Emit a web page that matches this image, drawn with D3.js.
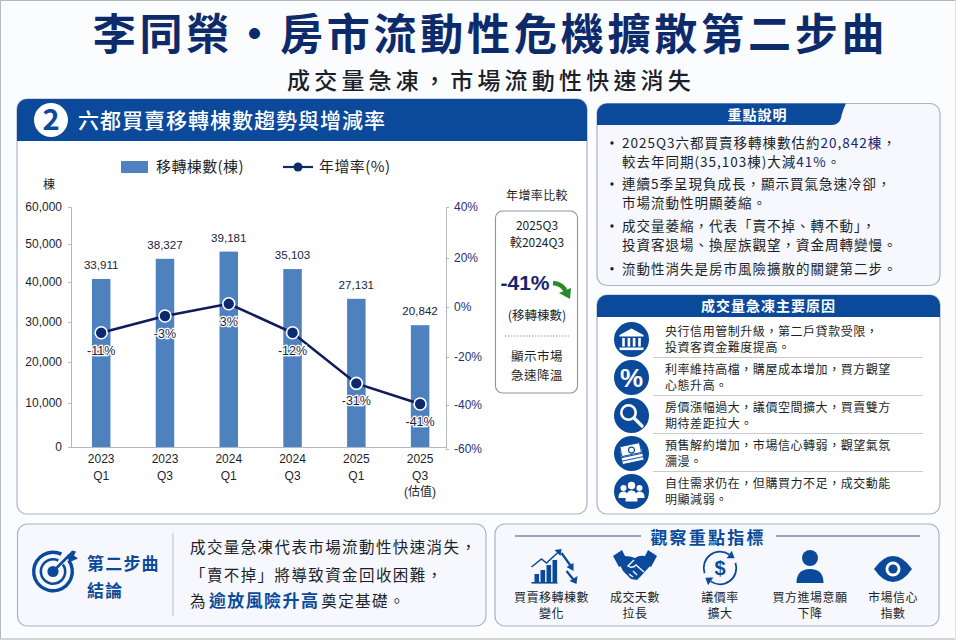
<!DOCTYPE html>
<html>
<head>
<meta charset="utf-8">
<script src="https://cdn.jsdelivr.net/npm/d3@7"></script>
<style>
  html, body { margin: 0; padding: 0; background: #fff; }
  svg { display: block; }
  text { font-family: "Noto Sans CJK TC", "Noto Sans", sans-serif; }
  .num { font-family: "Liberation Sans", "Noto Sans CJK TC", sans-serif; }
</style>
</head>
<body>
<div id="chart"></div>
<script>
// Chart data
const categories = ["2023 Q1", "2023 Q3", "2024 Q1", "2024 Q3", "2025 Q1", "2025 Q3 (估值)"];
const countLabels = ["33,911", "38,327", "39,181", "35,103", "27,131", "20,842"];
const rateLabels = ["-11%", "-3%", "3%", "-12%", "-31%", "-41%"];
// Bar and line levels as read against the printed axes (the picture's marks do not follow its labels)
const barLevels = [40800, 46100, 48000, 43400, 35800, 29200];
const rateLevels = [-10.3, -3.6, 1.3, -10.3, -31, -39.6];
// Printed ticks are unevenly spaced in the picture, so the scales take one stop per tick
const countTicks = [0, 10000, 20000, 30000, 40000, 50000, 60000];
const rateTicks = [-60, -40, -20, 0, 20, 40];

// Text content (\uFF0C is the full-width comma)
const mainTitle = "李同榮·房市流動性危機擴散第二步曲";
const subTitle = "成交量急凍\uFF0C市場流動性快速消失";
const notes = [
  [[["2025Q3六都買賣移轉棟數估約", 0], ["20,842棟", 1], ["\uFF0C", 0]], [["較去年同期(35,103棟)大減", 0], ["41%", 1], ["。", 0]]],
  [[["連續5季呈現負成長\uFF0C顯示買氣急速冷卻\uFF0C", 0]], [["市場流動性明顯萎縮。", 0]]],
  [[["成交量萎縮\uFF0C代表「賣不掉、轉不動」\uFF0C", 0]], [["投資客退場、換屋族觀望\uFF0C資金周轉變慢。", 0]]],
  [[["流動性消失是房市風險擴散的關鍵第二步。", 0]]]
];
const reasons = [
  ["央行信用管制升級\uFF0C第二戶貸款受限\uFF0C", "投資客資金難度提高。"],
  ["利率維持高檔\uFF0C購屋成本增加\uFF0C買方觀望", "心態升高。"],
  ["房價漲幅過大\uFF0C議價空間擴大\uFF0C買賣雙方", "期待差距拉大。"],
  ["預售解約增加\uFF0C市場信心轉弱\uFF0C觀望氣氛", "瀰漫。"],
  ["自住需求仍在\uFF0C但購買力不足\uFF0C成交動能", "明顯減弱。"]
];
const indicators = [
  ["買賣移轉棟數", "變化"],
  ["成交天數", "拉長"],
  ["議價率", "擴大"],
  ["買方進場意願", "下降"],
  ["市場信心", "指數"]
];

const blue = "#0b4a9b", navy = "#0d2a6b", barBlue = "#4d82bf", ink = "#1b1f2a", edge = "#a9b4c6", soft = "#f6f8fd";

const svg = d3.select("#chart").append("svg")
    .attr("width", 960)
    .attr("height", 640);

// Small helper so the many text blocks stay readable
function label(g, x, y, str, size, color, opts = {}) {
  return g.append("text")
    .attr("x", x)
    .attr("y", y)
    .attr("dy", "0.36em")
    .attr("text-anchor", opts.anchor || "start")
    .attr("font-size", size)
    .attr("font-weight", opts.weight || 400)
    .attr("letter-spacing", opts.ls || 0)
    .attr("fill", color)
    .text(str);
}

function panel(x, y, w, h, fill) {
  svg.append("rect")
    .attr("x", x).attr("y", y)
    .attr("width", w).attr("height", h)
    .attr("rx", 10)
    .attr("fill", fill)
    .attr("stroke", edge)
    .attr("stroke-width", 1.2);
}

// Page background and the thin frame of the picture
svg.append("rect").attr("x", 0.5).attr("y", 0.5).attr("width", 955).attr("height", 638.5)
  .attr("fill", "#fbfcfe").attr("stroke", "#e2e2e2");
svg.append("path").attr("d", "M955,0.5H0.5V639H955").attr("fill", "none").attr("stroke", "#b8b8b8");

label(svg, 490.5, 34.6, mainTitle, 43, navy, {anchor: "middle", weight: 700, ls: 3.8});
label(svg, 491, 81, subTitle, 23, ink, {anchor: "middle", weight: 500, ls: 4.2});

// Main panel
panel(17, 99, 570, 415, "#fff");
svg.append("path")
  .attr("d", "M17,141V109a10,10 0 0 1 10,-10H577a10,10 0 0 1 10,10V141Z")
  .attr("fill", blue);
svg.append("circle").attr("cx", 51).attr("cy", 120).attr("r", 17).attr("fill", "#fff");
label(svg, 51, 120, "2", 29, blue, {anchor: "middle", weight: 700});
label(svg, 78, 120, "六都買賣移轉棟數趨勢與增減率", 21, "#fff", {weight: 500, ls: 1});

// Legend
svg.append("rect").attr("x", 121).attr("y", 161).attr("width", 27).attr("height", 12).attr("fill", barBlue);
label(svg, 156, 167, "移轉棟數(棟)", 15, ink, {ls: 0.4});
svg.append("line").attr("x1", 283).attr("x2", 313).attr("y1", 167).attr("y2", 167)
  .attr("stroke", navy).attr("stroke-width", 2.2);
svg.append("circle").attr("cx", 298).attr("cy", 167).attr("r", 4.5).attr("fill", navy);
label(svg, 319, 167, "年增率(%)", 15, ink, {ls: 0.4});
label(svg, 49, 185, "棟", 12, ink, {anchor: "middle"});

// Scales
const x = d3.scaleBand()
  .domain(categories)
  .range([69.3, 452])
  .paddingInner(0.71)
  .paddingOuter(0.355);
const y = d3.scaleLinear()
  .domain(countTicks)
  .range([447, 403, 362, 322, 282, 244, 207]);
const yRate = d3.scaleLinear()
  .domain(rateTicks)
  .range([449, 405, 357, 307, 258, 207]);
const cx = d => x(d) + x.bandwidth() / 2;

// Bars
svg.append("g").selectAll("rect")
  .data(categories)
  .join("rect")
    .attr("x", d => x(d))
    .attr("y", (d, i) => y(barLevels[i]))
    .attr("width", x.bandwidth())
    .attr("height", (d, i) => y(0) - y(barLevels[i]))
    .attr("fill", barBlue);

// Axes
const axisLeft = svg.append("g")
  .attr("transform", "translate(71,0)")
  .call(d3.axisLeft(y).tickValues(countTicks).tickFormat(d3.format(",")).tickSize(3).tickPadding(6));
const axisRight = svg.append("g")
  .attr("transform", "translate(446,0)")
  .call(d3.axisRight(yRate).tickValues(rateTicks).tickFormat(d => d + "%").tickSize(3).tickPadding(5));
const axisBottom = svg.append("g")
  .attr("transform", "translate(0,447)")
  .call(d3.axisBottom(x).tickSize(0).tickPadding(0));
[axisLeft, axisRight, axisBottom].forEach(a => {
  a.selectAll(".domain, line").attr("stroke", "#b4b8c0");
  a.selectAll("text").attr("font-size", 12).attr("class", "num");
});
axisLeft.selectAll("text").attr("fill", ink);
axisRight.selectAll("text").attr("fill", "#1f2f7a");
axisBottom.select(".domain").attr("d", "M71,0.5H446");

// Category labels are split over two or three lines
axisBottom.selectAll(".tick text").each(function(d) {
  const t = d3.select(this).text(null).attr("y", 0).attr("dy", null).attr("fill", ink);
  d.split(" ").forEach((part, i) => {
    t.append("tspan").attr("x", 0).attr("y", 16 + i * 16.5).text(part);
  });
});

// Value labels above the bars
svg.append("g").selectAll("text")
  .data(categories)
  .join("text")
    .attr("class", "num")
    .attr("x", cx)
    .attr("y", (d, i) => y(barLevels[i]) - 14)
    .attr("dy", "0.36em")
    .attr("text-anchor", "middle")
    .attr("font-size", 11.6)
    .attr("fill", "#1a2340")
    .text((d, i) => countLabels[i]);

// Growth rate line
const line = d3.line()
  .x(d => cx(d))
  .y(d => yRate(rateLevels[categories.indexOf(d)]));
svg.append("path")
  .datum(categories)
  .attr("fill", "none")
  .attr("stroke", "#101a5c")
  .attr("stroke-width", 2.6)
  .attr("d", line);
svg.append("g").selectAll("circle")
  .data(categories)
  .join("circle")
    .attr("cx", cx)
    .attr("cy", (d, i) => yRate(rateLevels[i]))
    .attr("r", 6)
    .attr("fill", "#0e2a6e")
    .attr("stroke", "#fff")
    .attr("stroke-width", 1.6);
svg.append("g").selectAll("text")
  .data(categories)
  .join("text")
    .attr("class", "num")
    .attr("x", cx)
    .attr("y", (d, i) => yRate(rateLevels[i]) + 17.5)
    .attr("dy", "0.36em")
    .attr("text-anchor", "middle")
    .attr("font-size", 12.5)
    .attr("fill", "#1a2340")
    .attr("stroke", "#fff")
    .attr("stroke-width", 2.6)
    .attr("paint-order", "stroke")
    .text((d, i) => rateLabels[i]);

// Comparison box beside the chart
label(svg, 537, 196, "年增率比較", 12, ink, {anchor: "middle", ls: 0.4});
svg.append("rect").attr("x", 495.5).attr("y", 211).attr("width", 82).attr("height", 182).attr("rx", 7)
  .attr("fill", "#fff").attr("stroke", "#8b93a3").attr("stroke-width", 1.1);
label(svg, 537, 226, "2025Q3", 12, ink, {anchor: "middle"});
label(svg, 537, 243, "較2024Q3", 12, ink, {anchor: "middle"});
label(svg, 525, 282, "-41%", 21, "#17246f", {anchor: "middle", weight: 700}).attr("class", "num");
svg.append("path").attr("d", "M553,283Q563,284 566,292").attr("fill", "none").attr("stroke", "#2a8a2a").attr("stroke-width", 4.5);
svg.append("path").attr("d", "M559,293L571,288L570,299Z").attr("fill", "#2a8a2a");
label(svg, 537, 315, "(移轉棟數)", 12.5, ink, {anchor: "middle"});
svg.append("line").attr("x1", 505).attr("x2", 569).attr("y1", 336).attr("y2", 336)
  .attr("stroke", "#9a9a9a").attr("stroke-dasharray", "1.5,1.5");
label(svg, 537, 356, "顯示市場", 12.5, ink, {anchor: "middle", ls: 0.5});
label(svg, 537, 375, "急速降溫", 12.5, ink, {anchor: "middle", ls: 0.5});

// Notes panel
panel(597, 103.5, 343, 182, soft);
svg.append("path")
  .attr("d", "M597,125V113.5a10,10 0 0 1 10,-10H846Q842,112 841,118Q839,125 832,125Z")
  .attr("fill", blue);
label(svg, 757.5, 115, "重點說明", 14, "#fff", {anchor: "middle", weight: 700, ls: 1});
const noteY = [[143, 162], [184, 203.5], [226, 245], [268.7]];
notes.forEach((note, i) => {
  svg.append("circle").attr("cx", 612).attr("cy", noteY[i][0]).attr("r", 1.7).attr("fill", ink);
  note.forEach((segments, j) => {
    const t = label(svg, 622, noteY[i][j], null, 13.5, ink, {ls: 1});
    segments.forEach(([str, hi]) => {
      t.append("tspan").attr("fill", hi ? "#17246f" : ink).text(str);
    });
  });
});

// Reasons panel
panel(597, 295, 343, 219, "#fff");
svg.append("path")
  .attr("d", "M597,317V305a10,10 0 0 1 10,-10H930a10,10 0 0 1 10,10V317Z")
  .attr("fill", blue);
label(svg, 768.5, 306, "成交量急凍主要原因", 14, "#fff", {anchor: "middle", weight: 700, ls: 1});

const reasonY = [339.5, 377.5, 415.5, 453.5, 491.5];
reasons.forEach((lines, i) => {
  const top = reasonY[i] - 7.8;
  label(svg, 665, top, lines[0], 12, ink, {ls: 0.55});
  label(svg, 665, top + 16, lines[1], 12, ink, {ls: 0.55});
  if (i < reasons.length - 1) {
    svg.append("line").attr("x1", 653).attr("x2", 923).attr("y1", reasonY[i] + 18).attr("y2", reasonY[i] + 18)
      .attr("stroke", "#c8ccd2");
  }
  svg.append("circle").attr("cx", 631.5).attr("cy", reasonY[i]).attr("r", 17.5).attr("fill", blue);
});

// Reason icons, each drawn around its circle centre
function icon(cxPos, cyPos) {
  return svg.append("g").attr("transform", `translate(${cxPos},${cyPos})`);
}
const bank = icon(631.5, reasonY[0]);
bank.append("path").attr("d", "M0,-11L12,-4.5V-3H-12V-4.5Z").attr("fill", "#fff");
[-8, -2.6, 2.6, 8].forEach(d => bank.append("rect").attr("x", d - 1.3).attr("y", -1.5).attr("width", 2.6).attr("height", 8.5).attr("fill", "#fff"));
bank.append("rect").attr("x", -12).attr("y", 8).attr("width", 24).attr("height", 2.6).attr("fill", "#fff");

label(svg, 631.5, reasonY[1], "%", 26, "#fff", {anchor: "middle", weight: 700}).attr("class", "num");

const lens = icon(631.5, reasonY[2]);
lens.append("circle").attr("cx", -3).attr("cy", -3).attr("r", 7.2).attr("fill", "none").attr("stroke", "#fff").attr("stroke-width", 2.6);
lens.append("line").attr("x1", 2.5).attr("y1", 2.5).attr("x2", 10.5).attr("y2", 10.5).attr("stroke", "#fff").attr("stroke-width", 3.2).attr("stroke-linecap", "round");

const cash = icon(631.5, reasonY[3]);
[5, 1.5, -2].forEach(d => cash.append("rect").attr("x", -11).attr("y", d - 3).attr("width", 22).attr("height", 7)
  .attr("transform", "rotate(-12)").attr("fill", "#fff").attr("stroke", blue).attr("stroke-width", 0.9));
cash.append("rect").attr("x", -10).attr("y", -9).attr("width", 20).attr("height", 10).attr("transform", "rotate(-12)")
  .attr("fill", "#fff").attr("stroke", blue).attr("stroke-width", 0.9);
cash.append("circle").attr("cy", -3.4).attr("r", 3).attr("fill", "none").attr("stroke", blue).attr("stroke-width", 1.2);

const people = icon(631.5, reasonY[4]);
[[-8, -3.5, 3], [8, -3.5, 3], [0, -6, 3.7]].forEach(([a, b, r]) => people.append("circle").attr("cx", a).attr("cy", b).attr("r", r).attr("fill", "#fff"));
people.append("path").attr("d", "M-13,6Q-13,0 -8,0Q-4,0 -4,5V6.5H-13Z M13,6Q13,0 8,0Q4,0 4,5V6.5H13Z").attr("fill", "#fff");
people.append("path").attr("d", "M-6,10Q-6,-1.2 0,-1.2Q6,-1.2 6,10Z").attr("fill", "#fff");

// Conclusion panel
panel(17.5, 524, 468.5, 102, soft);
const target = icon(53, 571.5);
[21, 13.5].forEach((r, i) => {
  const arc = d3.arc().innerRadius(r - (i ? 2.6 : 3.4)).outerRadius(r).startAngle(0.95).endAngle(2 * Math.PI + 0.45);
  target.append("path").attr("d", arc()).attr("fill", blue);
});
target.append("circle").attr("r", 5.6).attr("fill", blue);
target.append("line").attr("x1", 0).attr("y1", 0).attr("x2", 17).attr("y2", -17).attr("stroke", blue).attr("stroke-width", 2.6);
target.append("path").attr("d", "M13,-14L19,-21L23,-20L21,-16L25,-13L18,-10Z").attr("fill", blue);
label(svg, 87, 564, "第二步曲", 17, blue, {weight: 700, ls: 1.2});
label(svg, 87, 591, "結論", 17, blue, {weight: 700, ls: 1.2});
svg.append("line").attr("x1", 173).attr("x2", 173).attr("y1", 533).attr("y2", 616).attr("stroke", "#c3c9d3").attr("stroke-width", 1.2);
label(svg, 190, 547, "成交量急凍代表市場流動性快速消失\uFF0C", 15.5, ink, {ls: 1.4});
label(svg, 190, 575, "「賣不掉」將導致資金回收困難\uFF0C", 15.5, ink, {ls: 1.4});
const lastLine = label(svg, 190, 601, null, 15.5, ink, {ls: 1.4});
lastLine.append("tspan").text("為");
lastLine.append("tspan").attr("fill", blue).attr("font-size", 17).attr("font-weight", 700).attr("dx", 2).text("逾放風險升高");
lastLine.append("tspan").attr("dx", 2).text("奠定基礎。");

// Indicators panel
panel(495, 524, 444, 102, soft);
label(svg, 708, 538, "觀察重點指標", 17, blue, {anchor: "middle", weight: 700, ls: 2.2});
[[515, 641], [776, 920]].forEach(([a, b]) => {
  svg.append("line").attr("x1", a).attr("x2", b).attr("y1", 536).attr("y2", 536).attr("stroke", "#44546f").attr("stroke-width", 1.2);
});
const indicatorX = [551.5, 635, 720, 810, 893];
indicators.forEach((lines, i) => {
  label(svg, indicatorX[i], 598, lines[0], 12, ink, {anchor: "middle", ls: 0.5});
  label(svg, indicatorX[i], 614, lines[1], 12, ink, {anchor: "middle", ls: 0.5});
});

// Indicator icons
const trend = icon(551.5, 568);
[[-17, 8], [-11, 12], [-5, 17], [1, 22]].forEach(([a, h]) => trend.append("rect").attr("x", a).attr("y", 14 - h).attr("width", 4.6).attr("height", h).attr("fill", blue));
trend.append("rect").attr("x", -20).attr("y", 14).attr("width", 26).attr("height", 1.6).attr("fill", blue);
trend.append("path").attr("d", "M-20,-1L-10,-9L-5,-5L8,-17").attr("fill", "none").attr("stroke", blue).attr("stroke-width", 1.6);
trend.append("path").attr("d", "M3,-18L10,-19L9,-12Z").attr("fill", blue);
trend.append("path").attr("d", "M10,-15L20,-1 M15,3L23,13").attr("fill", "none").attr("stroke", blue).attr("stroke-width", 2.2);
trend.append("path").attr("d", "M15,-1L22,-5L22,3Z M18,13L26,8L25,16Z").attr("fill", blue);

const shake = icon(635, 568);
shake.append("path").attr("d", "M-22,-12L-13,-18L-7,-6L-16,-1Z M22,-12L13,-18L7,-6L16,-1Z").attr("fill", blue);
shake.append("path").attr("d", "M-12,-12Q-4,-12 0,-10Q6,-14 12,-11L16,-3L6,8L2,12L-4,11L-12,3L-15,-3Z").attr("fill", blue);
shake.append("path").attr("d", "M-1,-8L-7,-2Q-3,1 1,-3L9,4 M-6,6L-2,9 M-2,3L2,7").attr("fill", "none").attr("stroke", soft).attr("stroke-width", 1.4);

const cycle = icon(720, 568);
const ring = d3.arc().innerRadius(15.4).outerRadius(17.2);
[[-1.9, 0.6], [1.25, 3.75]].forEach(([a, b]) => {
  cycle.append("path").attr("d", ring({startAngle: a, endAngle: b})).attr("fill", blue);
  cycle.append("path").attr("d", "M0,-4.6L6.5,0L0,4.6Z")
    .attr("transform", `rotate(${b * 180 / Math.PI}) translate(0,-16.3)`)
    .attr("fill", blue);
});
label(cycle, 0, 0, "$", 20, blue, {anchor: "middle", weight: 700}).attr("class", "num");

const person = icon(810, 568);
person.append("circle").attr("cy", -10).attr("r", 8).attr("fill", blue);
person.append("path").attr("d", "M-13.5,15Q-13.5,1 0,1Q13.5,1 13.5,15Z").attr("fill", blue);

const eye = icon(893, 569);
eye.append("path").attr("d", "M-19,0Q-10,-13 0,-13Q10,-13 19,0Q10,13 0,13Q-10,13 -19,0Z").attr("fill", blue);
eye.append("circle").attr("r", 7.5).attr("fill", "#fff");
eye.append("circle").attr("r", 4.6).attr("fill", blue);
</script>
</body>
</html>
